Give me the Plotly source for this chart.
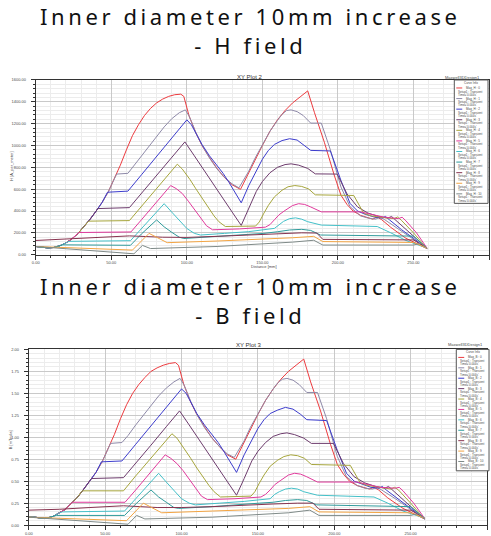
import plotly.graph_objects as go

# ------------------------------------------------------------------ data
# distance along the line [mm] for each curve (shared by H and B plots)
DIST_1 = [0,4,8,12,16,20,24,28,32,36,40,44,48,52,56,60,62,64,68,72,76,80,84,88,92,96,98,101.5,106,110,115,120,125,130,135.5,141,145,150,155,160,165,170,175,180,184.5,191,197.5,202,206,210,215,220,223,226,229,235,245,259]
DIST_2 = [0,4,8,12,16,20,24,28,32,36,40,44,48,52,53.5,61,65,70,75,80,85,90,95,99,101.5,106,110,115,120,125,130,134.5,141,145,150,155,160,163,166,169,173,177,182,189,195,202,208,215,220,225,228,231,240,250,259]
DIST_3 = [0,4,8,12,16,20,24,28,32,36,40,44,47.5,61,70,80,90,100,103,106,110,115,119,124,128,132,136,141,146,150,154,158,163,168,173,178,182,195,202,208,213,218,224,229,231.5,234,242,250,259]
DIST_4 = [0,4,8,12,16,20,24,28,32,36,40,41,62,70,80,90,98.7,105,110,120,130,136,141,146,150,155,160,165,169,174,180,185,199.5,206,213,220,227,233,235.5,238,245,252,259]
DIST_5 = [0,4,8,12,16,20,24,28,32,35,62,70,80,88,93.7,97,102,106,110,114.7,118,121.3,125.5,145.5,148,151,154,158,163,167,171.5,176,180.5,185,210.5,217,222,230,237,239.5,242,250,259]
DIST_6 = [0,4,8,12,16,20,24,28.5,63,70,80,89.3,93,97,101,106,110,113,117,135,152,155,158,161,165,170,174,178,182,189,215,222,230,240,242.5,245,252,259]
DIST_7 = [0,4,8,12,16,20,22,62.7,70,78,85,90,95,100,105,109,125,141,158,161,164,168,172,176,180,189,226,235,245,259]
DIST_8 = [0,4,8,12,16,18,62.7,70,80,85,90,95,98,120,151,160,168,176,182,188.5,250,259]
DIST_9 = [0,20,40,62,84,100,120,141,160,176,186,190,250,259]
DIST_10 = [0,64,75,87,120,150,170,184,190,250,259]
DIST_11 = [0,65,70.6,76,120,150,170,184,190,250,255,259]

# H field [A_per_meter]
H_1 = [75,68,62,66,82,108,145,195,255,325,400,480,575,690,820,960,1030,1090,1190,1275,1340,1390,1425,1450,1465,1470,1450,1270,1115,1000,890,790,705,640,598,753,870,1000,1130,1235,1320,1390,1445,1500,1300,1030,730,545,460,400,360,335,325,345,320,250,150,55]
H_2 = [75,68,62,66,82,108,145,195,255,325,400,480,575,690,738,745,815,905,995,1085,1170,1245,1300,1326,1270,1118,1003,885,785,707,648,612,765,880,1005,1130,1230,1285,1320,1326,1310,1275,1205,1205,960,620,440,355,335,325,345,320,235,140,55]
H_3 = [75,68,62,66,82,108,145,195,255,325,400,480,572,582,732,900,1068,1235,1190,1110,1010,905,835,745,660,568,475,633,770,874,955,1010,1045,1062,1050,1000,955,950,680,470,400,370,345,335,350,320,230,150,55]
H_4 = [75,68,62,66,82,108,145,195,255,325,400,422,431,562,727,891,1033,905,800,595,390,268,422,580,670,750,800,825,832,820,790,740,738,557,437,380,350,335,350,320,230,145,55]
H_5 = [75,68,62,66,82,108,145,195,255,307,312,445,606,735,829,784,690,603,520,422,355,301,258,262,300,380,452,530,590,622,633,625,603,548,542,380,355,340,330,345,315,200,55]
H_6 = [75,68,62,66,82,108,145,203,208,320,482,633,605,560,490,395,325,265,228,236,252,275,320,365,405,450,467,460,437,392,392,368,345,330,343,310,200,60]
H_7 = [75,68,62,66,82,108,122,128,240,365,467,390,310,240,195,180,195,211,241,275,305,330,337,325,302,271,258,200,130,60]
H_8 = [75,68,62,66,82,90,86,190,318,255,205,160,148,165,195,210,226,232,222,180,170,60]
H_9 = [130,145,158,172,160,158,168,180,192,200,198,140,135,60]
H_10 = [75,42,195,110,125,140,155,168,120,112,60]
H_11 = [75,8,85,56,75,95,115,132,88,88,105,60]

# B field [mTesla]
B_1 = [0.09,0.09,0.08,0.08,0.10,0.14,0.18,0.25,0.32,0.41,0.50,0.60,0.72,0.87,1.03,1.21,1.30,1.37,1.50,1.60,1.68,1.75,1.79,1.82,1.84,1.85,1.82,1.60,1.40,1.26,1.12,0.99,0.89,0.80,0.75,0.95,1.09,1.26,1.42,1.55,1.66,1.75,1.82,1.89,1.63,1.30,0.92,0.69,0.58,0.50,0.45,0.42,0.41,0.43,0.40,0.31,0.19,0.07]
B_2 = [0.09,0.09,0.08,0.08,0.10,0.14,0.18,0.25,0.32,0.41,0.50,0.60,0.72,0.87,0.93,0.94,1.02,1.14,1.25,1.36,1.47,1.56,1.63,1.67,1.60,1.41,1.26,1.11,0.99,0.89,0.81,0.77,0.96,1.11,1.26,1.42,1.55,1.62,1.66,1.67,1.65,1.60,1.51,1.51,1.21,0.78,0.55,0.45,0.42,0.41,0.43,0.40,0.30,0.18,0.07]
B_3 = [0.09,0.09,0.08,0.08,0.10,0.14,0.18,0.25,0.32,0.41,0.50,0.60,0.72,0.73,0.92,1.13,1.34,1.55,1.50,1.40,1.27,1.14,1.05,0.94,0.83,0.71,0.60,0.80,0.97,1.10,1.20,1.27,1.31,1.34,1.32,1.26,1.20,1.19,0.85,0.59,0.50,0.47,0.43,0.42,0.44,0.40,0.29,0.19,0.07]
B_4 = [0.09,0.09,0.08,0.08,0.10,0.14,0.18,0.25,0.32,0.41,0.50,0.53,0.54,0.71,0.91,1.12,1.30,1.14,1.01,0.75,0.49,0.34,0.53,0.73,0.84,0.94,1.01,1.04,1.05,1.03,0.99,0.93,0.93,0.70,0.55,0.48,0.44,0.42,0.44,0.40,0.29,0.18,0.07]
B_5 = [0.09,0.09,0.08,0.08,0.10,0.14,0.18,0.25,0.32,0.39,0.39,0.56,0.76,0.92,1.04,0.99,0.87,0.76,0.65,0.53,0.45,0.38,0.32,0.33,0.38,0.48,0.57,0.67,0.74,0.78,0.80,0.79,0.76,0.69,0.68,0.48,0.45,0.43,0.41,0.43,0.40,0.25,0.07]
B_6 = [0.09,0.09,0.08,0.08,0.10,0.14,0.18,0.26,0.26,0.40,0.61,0.80,0.76,0.70,0.62,0.50,0.41,0.33,0.29,0.30,0.32,0.35,0.40,0.46,0.51,0.57,0.59,0.58,0.55,0.49,0.49,0.46,0.43,0.42,0.43,0.39,0.25,0.08]
B_7 = [0.09,0.09,0.08,0.08,0.10,0.14,0.15,0.16,0.30,0.46,0.59,0.49,0.39,0.30,0.25,0.23,0.25,0.27,0.30,0.35,0.38,0.41,0.42,0.41,0.38,0.34,0.32,0.25,0.16,0.08]
B_8 = [0.09,0.09,0.08,0.08,0.10,0.11,0.11,0.24,0.40,0.32,0.26,0.20,0.19,0.21,0.25,0.26,0.28,0.29,0.28,0.23,0.21,0.08]
B_9 = [0.17,0.18,0.20,0.22,0.20,0.20,0.21,0.23,0.24,0.25,0.25,0.18,0.17,0.08]
B_10 = [0.09,0.05,0.25,0.14,0.16,0.18,0.19,0.21,0.15,0.14,0.08]
B_11 = [0.09,0.01,0.11,0.07,0.09,0.12,0.14,0.17,0.11,0.11,0.13,0.08]

CURVE_IDS = ["0", "1", "2", "3", "4", "5", "6", "7", "8", "9", "10"]
DIST = [DIST_1, DIST_2, DIST_3, DIST_4, DIST_5, DIST_6, DIST_7, DIST_8, DIST_9, DIST_10, DIST_11]
H_SERIES = [H_1, H_2, H_3, H_4, H_5, H_6, H_7, H_8, H_9, H_10, H_11]
B_SERIES = [B_1, B_2, B_3, B_4, B_5, B_6, B_7, B_8, B_9, B_10, B_11]

X_TICKS = [0, 50, 100, 150, 200, 250, 300]
H_TICKS = [0, 200, 400, 600, 800, 1000, 1200, 1400, 1600]
B_TICKS = [0, 0.25, 0.5, 0.75, 1.0, 1.25, 1.5, 1.75, 2.0]

TITLE_H = ["Inner diameter 10mm increase", "- H field"]
TITLE_B = ["Inner diameter 10mm increase", "- B field"]

# ------------------------------------------------------------------ style
COLORS = ["#ec3b3f", "#8e89a8", "#3c3ccc", "#6d3c6d", "#a6a53c", "#e03a9c",
          "#44c0c8", "#2f9a9a", "#87334f", "#f2a443", "#7f8a88"]
W, HGT = 491, 536
TXT = "#4a4a4a"
SMALL = "Liberation Sans, Arial, sans-serif"


def px(x):
    return x / W


def py(y):
    return 1 - y / HGT


fig = go.Figure()
for i in range(len(DIST)):
    fig.add_trace(go.Scatter(x=DIST[i], y=H_SERIES[i], mode="lines", xaxis="x", yaxis="y",
                             line=dict(color=COLORS[i], width=1), showlegend=False,
                             name="Mag_H : " + CURVE_IDS[i]))
    fig.add_trace(go.Scatter(x=DIST[i], y=B_SERIES[i], mode="lines", xaxis="x2", yaxis="y2",
                             line=dict(color=COLORS[i], width=1), showlegend=False,
                             name="Mag_B : " + CURVE_IDS[i]))


def xaxis(domain, anchor):
    return dict(domain=domain, anchor=anchor, range=[0, 300], tickvals=X_TICKS,
                tickformat=".2f", ticks="outside", ticklen=4, tickcolor="#333",
                tickfont=dict(size=4, color=TXT, family=SMALL), ticklabelstandoff=0,
                showline=True, linecolor="#333", linewidth=1, mirror=True,
                showgrid=True, gridcolor="#c9c9c9", gridwidth=1, zeroline=False,
                minor=dict(dtick=10, ticks="outside", ticklen=2, tickcolor="#333",
                           showgrid=True, gridcolor="#ececec", gridwidth=1))


def yaxis(domain, anchor, rng, tickvals, minor):
    return dict(domain=domain, anchor=anchor, range=rng, tickvals=tickvals,
                tickformat=".2f", ticks="outside", ticklen=4, tickcolor="#333",
                tickfont=dict(size=4, color=TXT, family=SMALL), ticklabelstandoff=4,
                showline=True, linecolor="#333", linewidth=1, mirror=True,
                showgrid=True, gridcolor="#c9c9c9", gridwidth=1, zeroline=False,
                minor=dict(dtick=minor, ticks="outside", ticklen=2, tickcolor="#333",
                           showgrid=True, gridcolor="#ececec", gridwidth=1))


fig.update_layout(
    width=W, height=HGT, margin=dict(l=0, r=0, t=0, b=0),
    paper_bgcolor="white", plot_bgcolor="white",
    xaxis=xaxis([px(32), px(489)], "y"),
    yaxis=yaxis([py(255), py(78)], "x", [0, 1600], H_TICKS, 40),
    xaxis2=xaxis([px(25), px(487)], "y2"),
    yaxis2=yaxis([py(529), py(351)], "x2", [0, 2.0], B_TICKS, 0.05),
)

ann = []
shapes = []


def big_title(lines, yc):
    text = "<br>".join('<span style="letter-spacing:3.6px">' + t + "</span>" for t in lines)
    ann.append(dict(xref="paper", yref="paper", x=px(249), y=py(yc),
                    xanchor="center", yanchor="middle", showarrow=False, text=text,
                    font=dict(family="Noto Sans, Open Sans, sans-serif", size=22, color="#111")))


big_title(TITLE_H, 28)
big_title(TITLE_B, 301)


def small(x, y, text, size=4, xanchor="center", yanchor="middle", angle=0, color=TXT):
    ann.append(dict(xref="paper", yref="paper", x=px(x), y=py(y), text=text,
                    xanchor=xanchor, yanchor=yanchor, showarrow=False, textangle=angle,
                    font=dict(family=SMALL, size=size, color=color)))


# plot headers / axis titles
small(248, 75, "XY Plot 2", size=6, color="#333")
small(462, 75, "Maxwell3DDesign1", size=4)
small(262, 267, "Distance [mm]", size=4)
small(8, 165, "H [A_per_meter]", size=4, angle=-90)

small(247, 347, "XY Plot 3", size=6, color="#333")
small(465, 346, "Maxwell3DDesign1", size=4)
small(6, 442, "B [mTesla]", size=4, angle=-90)


def legend(x0, y0, x1, y1, qty):
    shapes.append(dict(type="rect", xref="paper", yref="paper", x0=px(x0), x1=px(x1),
                       y0=py(y1), y1=py(y0), line=dict(color="#555", width=1),
                       fillcolor="white", layer="above"))
    small((x0 + x1) / 2, y0 + 3, "Curve Info", size=3)
    step = (y1 - y0 - 7) / len(DIST)
    for i in range(len(DIST)):
        top = y0 + 6.5 + i * step
        shapes.append(dict(type="line", xref="paper", yref="paper", x0=px(x0 + 2), x1=px(x0 + 8),
                           y0=py(top + 1.6), y1=py(top + 1.6),
                           line=dict(color=COLORS[i], width=1), layer="above"))
        small(x0 + 10, top + 1.6, qty + " : " + CURVE_IDS[i], size=3, xanchor="left")
        small(x0 + 2, top + 5.2, "Setup1 : Transient", size=3, xanchor="left")
        small(x0 + 2, top + 8.6, "Time='0.004s'", size=3, xanchor="left")


legend(454, 78, 488, 203, "Mag_H")
legend(456, 351, 489, 474, "Mag_B")

fig.update_layout(annotations=ann, shapes=shapes)
fig.write_html("out.html", config={"displayModeBar": False},
               post_script="document.body.style.margin='0';document.body.style.padding='0';")
